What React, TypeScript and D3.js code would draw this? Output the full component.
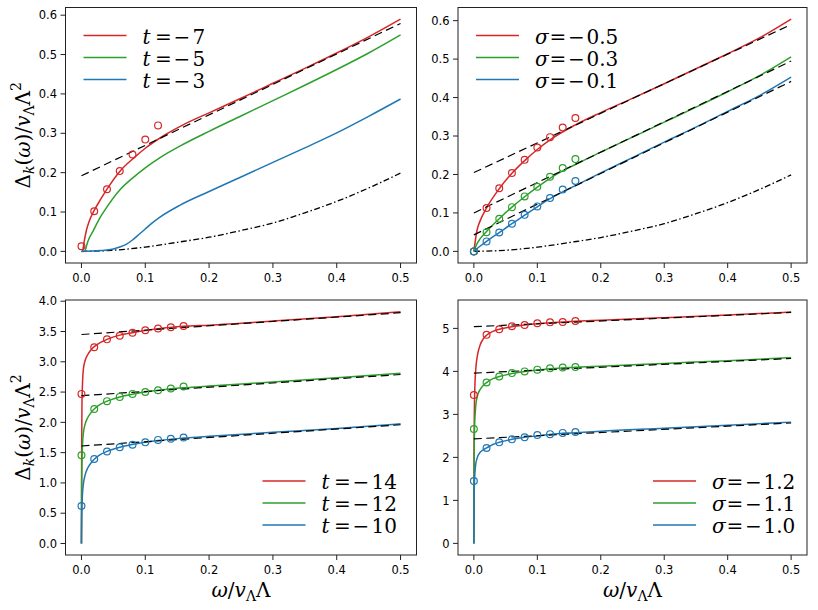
import * as d3 from "d3";

type Pt = [number, number];

const red = "#d62728";
const green = "#2ca02c";
const blue = "#1f77b4";

// x ticks shared by all panels
const omegaTicks = [0, 0.1, 0.2, 0.3, 0.4, 0.5];
// omega values where the circles sit
const omegaDots = [0, 0.02, 0.04, 0.06, 0.08, 0.1, 0.12, 0.14, 0.16];

// ---- top left: t = -7, -5, -3
const tTopLabels = ["−7", "−5", "−3"];
const tTopRed: Pt[] = [
  [0.002, 0], [0.004, 0.022], [0.008, 0.055], [0.012, 0.076], [0.019, 0.101], [0.03, 0.132],
  [0.04, 0.158], [0.06, 0.203], [0.084, 0.24], [0.1, 0.262], [0.13, 0.295], [0.16, 0.322],
  [0.2, 0.352], [0.25, 0.389], [0.3, 0.427], [0.35, 0.465], [0.4, 0.504], [0.45, 0.545], [0.5, 0.59],
];
const tTopGreen: Pt[] = [
  [0.0056, 0], [0.01, 0.025], [0.019, 0.054], [0.03, 0.088], [0.04, 0.113], [0.06, 0.156],
  [0.08, 0.186], [0.1, 0.212], [0.125, 0.24], [0.155, 0.268], [0.2, 0.305], [0.25, 0.344],
  [0.3, 0.383], [0.35, 0.422], [0.4, 0.462], [0.45, 0.504], [0.5, 0.55],
];
const tTopBlue: Pt[] = [
  [0, 0], [0.03, 0.002], [0.05, 0.006], [0.06, 0.011], [0.07, 0.018], [0.08, 0.029], [0.09, 0.043],
  [0.1, 0.057], [0.11, 0.071], [0.123, 0.087], [0.154, 0.117], [0.2, 0.152], [0.25, 0.189],
  [0.3, 0.226], [0.35, 0.263], [0.4, 0.301], [0.45, 0.343], [0.5, 0.387],
];
const tTopRedDots = [0.013, 0.102, 0.158, 0.204, 0.246, 0.284, 0.32];
const tTopRedAsym: Pt[] = [[0, 0.192], [0.5, 0.579]];

// free (dash-dot) curve, same in both top panels
const freeCurve: Pt[] = [
  [0, 0], [0.05, 0.003], [0.1, 0.011], [0.15, 0.023], [0.2, 0.036], [0.25, 0.053],
  [0.3, 0.072], [0.35, 0.098], [0.4, 0.127], [0.45, 0.161], [0.5, 0.199],
];

// ---- top right: sigma = -0.5, -0.3, -0.1
const sTopLabels = ["−0.5", "−0.3", "−0.1"];
const sTopRed: Pt[] = [
  [0, 0], [0.005, 0.055], [0.01, 0.08], [0.02, 0.113], [0.04, 0.163], [0.06, 0.203], [0.08, 0.236],
  [0.1, 0.265], [0.12, 0.29], [0.16, 0.329], [0.2, 0.361], [0.25, 0.398], [0.3, 0.436],
  [0.35, 0.475], [0.4, 0.514], [0.45, 0.555], [0.5, 0.604],
];
const sTopGreen: Pt[] = [
  [0, 0], [0.005, 0.02], [0.01, 0.033], [0.02, 0.052], [0.04, 0.085], [0.06, 0.115], [0.08, 0.142],
  [0.1, 0.167], [0.12, 0.19], [0.16, 0.226], [0.2, 0.258], [0.25, 0.297], [0.3, 0.336],
  [0.35, 0.375], [0.4, 0.415], [0.45, 0.457], [0.5, 0.506],
];
const sTopBlue: Pt[] = [
  [0, 0], [0.01, 0.014], [0.02, 0.026], [0.04, 0.049], [0.06, 0.072], [0.08, 0.094], [0.1, 0.116],
  [0.12, 0.137], [0.16, 0.171], [0.2, 0.204], [0.25, 0.244], [0.3, 0.284], [0.35, 0.323],
  [0.4, 0.364], [0.45, 0.405], [0.5, 0.453],
];
const sTopRedDots = [0, 0.113, 0.164, 0.204, 0.238, 0.27, 0.297, 0.322, 0.347];
const sTopGreenDots = [0, 0.05, 0.085, 0.115, 0.143, 0.168, 0.194, 0.217, 0.24];
const sTopBlueDots = [0, 0.026, 0.049, 0.072, 0.095, 0.117, 0.139, 0.161, 0.183];
const sTopAsym: Pt[][] = [
  [[0, 0.205], [0.5, 0.59]],
  [[0, 0.1], [0.5, 0.495]],
  [[0, 0.043], [0.5, 0.442]],
];

// ---- bottom left: t = -14, -12, -10
const tBotLabels = ["−14", "−12", "−10"];
const tBotRed: Pt[] = [
  [0, 0], [0.0003, 1.5], [0.0008, 2.3], [0.0015, 2.6], [0.003, 2.88], [0.006, 3.03], [0.01, 3.12],
  [0.015, 3.2], [0.02, 3.25], [0.03, 3.32], [0.04, 3.37], [0.06, 3.44], [0.08, 3.48], [0.1, 3.515],
  [0.12, 3.545], [0.16, 3.585], [0.2, 3.605], [0.3, 3.672], [0.4, 3.745], [0.5, 3.825],
];
const tBotGreen: Pt[] = [
  [0, 0], [0.0003, 0.9], [0.0008, 1.35], [0.0015, 1.6], [0.003, 1.82], [0.006, 1.98], [0.01, 2.08],
  [0.015, 2.16], [0.02, 2.22], [0.03, 2.3], [0.04, 2.35], [0.06, 2.42], [0.08, 2.465], [0.1, 2.5],
  [0.12, 2.53], [0.16, 2.57], [0.2, 2.6], [0.3, 2.665], [0.4, 2.735], [0.5, 2.81],
];
const tBotBlue: Pt[] = [
  [0, 0], [0.0003, 0.4], [0.0008, 0.62], [0.0015, 0.8], [0.003, 0.98], [0.006, 1.14], [0.01, 1.25],
  [0.015, 1.33], [0.02, 1.39], [0.03, 1.47], [0.04, 1.52], [0.06, 1.59], [0.08, 1.635], [0.1, 1.67],
  [0.12, 1.7], [0.16, 1.74], [0.2, 1.77], [0.3, 1.835], [0.4, 1.9], [0.5, 1.975],
];
const tBotRedDots = [2.47, 3.24, 3.37, 3.43, 3.48, 3.52, 3.55, 3.57, 3.59];
const tBotGreenDots = [1.455, 2.22, 2.35, 2.42, 2.47, 2.5, 2.53, 2.56, 2.59];
const tBotBlueDots = [0.62, 1.395, 1.52, 1.59, 1.63, 1.67, 1.71, 1.73, 1.75];
const tBotAsym: Pt[][] = [
  [[0, 3.45], [0.5, 3.81]],
  [[0, 2.44], [0.5, 2.79]],
  [[0, 1.61], [0.5, 1.96]],
];

// ---- bottom right: sigma = -1.2, -1.1, -1.0
const sBotLabels = ["−1.2", "−1.1", "−1.0"];
const sBotRed: Pt[] = [
  [0, 0], [0.0003, 2.2], [0.0008, 3.1], [0.0015, 3.6], [0.003, 4.05], [0.006, 4.4], [0.01, 4.62],
  [0.015, 4.76], [0.02, 4.84], [0.03, 4.93], [0.04, 4.98], [0.06, 5.04], [0.08, 5.08], [0.1, 5.11],
  [0.12, 5.13], [0.16, 5.165], [0.2, 5.19], [0.3, 5.25], [0.4, 5.31], [0.5, 5.38],
];
const sBotGreen: Pt[] = [
  [0, 0], [0.0003, 1.8], [0.0008, 2.5], [0.0015, 2.85], [0.003, 3.2], [0.006, 3.45], [0.01, 3.58],
  [0.015, 3.68], [0.02, 3.74], [0.03, 3.83], [0.04, 3.88], [0.06, 3.95], [0.08, 4.0], [0.1, 4.03],
  [0.12, 4.06], [0.16, 4.095], [0.2, 4.12], [0.3, 4.185], [0.4, 4.25], [0.5, 4.32],
];
const sBotBlue: Pt[] = [
  [0, 0], [0.0003, 0.9], [0.0008, 1.35], [0.0015, 1.6], [0.003, 1.85], [0.006, 2.02], [0.01, 2.12],
  [0.015, 2.18], [0.02, 2.22], [0.03, 2.3], [0.04, 2.35], [0.06, 2.42], [0.08, 2.47], [0.1, 2.5],
  [0.12, 2.535], [0.16, 2.575], [0.2, 2.61], [0.3, 2.675], [0.4, 2.745], [0.5, 2.82],
];
const sBotRedDots = [3.45, 4.85, 4.98, 5.05, 5.08, 5.12, 5.14, 5.15, 5.17];
const sBotGreenDots = [2.66, 3.74, 3.88, 3.96, 4.0, 4.04, 4.07, 4.09, 4.1];
const sBotBlueDots = [1.45, 2.22, 2.35, 2.42, 2.47, 2.52, 2.54, 2.57, 2.59];
const sBotAsym: Pt[][] = [
  [[0, 5.04], [0.5, 5.37]],
  [[0, 3.96], [0.5, 4.3]],
  [[0, 2.43], [0.5, 2.8]],
];

const colors = [red, green, blue];
const serif = "DejaVu Serif";
const sans = "DejaVu Sans";

type Box = { left: number; right: number; top: number; bottom: number };

type PanelProps = {
  box: Box;
  yDomain: [number, number];
  yTicks: number[];
  yFmt: (v: number) => string;
  curves: Pt[][];
  asym: Pt[][];
  dots: number[][];
  free?: Pt[];
  symbol: "t" | "σ";
  labels: string[];
  legendAt: "top" | "bottom";
  xTitle?: boolean;
  yTitle?: boolean;
};

function Panel(p: PanelProps) {
  const { box } = p;
  const x = d3.scaleLinear().domain([-0.025, 0.525]).range([box.left, box.right]);
  const y = d3.scaleLinear().domain(p.yDomain).range([box.bottom, box.top]);
  const line = d3
    .line<Pt>()
    .x((d) => x(d[0]))
    .y((d) => y(d[1]))
    .curve(d3.curveMonotoneX);
  const straight = d3
    .line<Pt>()
    .x((d) => x(d[0]))
    .y((d) => y(d[1]));

  const legX = p.legendAt === "top" ? box.left + 18 : box.right - 154;
  const legY = p.legendAt === "top" ? box.top + 28 : box.bottom - 74;
  const isT = p.symbol === "t";
  const off = isT ? { eq: 12.5, minus: 31, num: 50 } : { eq: 14.5, minus: 33, num: 51.5 };

  return (
    <g>
      {p.free && (
        <path
          d={line(p.free) ?? ""}
          fill="none"
          stroke="#000"
          strokeWidth={1.3}
          strokeDasharray="6,2.5,1.5,2.5"
        />
      )}
      {p.curves.map((c, i) => (
        <path key={i} d={line(c) ?? ""} fill="none" stroke={colors[i]} strokeWidth={1.5} />
      ))}
      {p.asym.map((c, i) => (
        <path
          key={i}
          d={straight(c) ?? ""}
          fill="none"
          stroke="#000"
          strokeWidth={1.2}
          strokeDasharray="8,4.5"
        />
      ))}
      {p.dots.map((ds, i) =>
        ds.map((v, j) => (
          <circle
            key={`${i}-${j}`}
            cx={x(omegaDots[j])}
            cy={y(v)}
            r={3.4}
            fill="none"
            stroke={colors[i]}
            strokeWidth={1.2}
          />
        ))
      )}
      <rect
        x={box.left}
        y={box.top}
        width={box.right - box.left}
        height={box.bottom - box.top}
        fill="none"
        stroke="#222"
        strokeWidth={1}
      />
      {omegaTicks.map((t) => (
        <g key={t}>
          <line x1={x(t)} x2={x(t)} y1={box.bottom} y2={box.bottom + 5} stroke="#222" />
          <text
            x={x(t)}
            y={box.bottom + 18.5}
            textAnchor="middle"
            fontFamily={sans}
            fontSize={11.5}
          >
            {d3.format(".1f")(t)}
          </text>
        </g>
      ))}
      {p.yTicks.map((t) => (
        <g key={t}>
          <line x1={box.left - 5} x2={box.left} y1={y(t)} y2={y(t)} stroke="#222" />
          <text
            x={box.left - 8.5}
            y={y(t) + 4.2}
            textAnchor="end"
            fontFamily={sans}
            fontSize={11.5}
          >
            {p.yFmt(t)}
          </text>
        </g>
      ))}
      {p.labels.map((lab, i) => (
        <g key={lab} transform={`translate(${legX},${legY + i * 22})`}>
          <line x1={0} x2={43} y1={0} y2={0} stroke={colors[i]} strokeWidth={1.5} />
          <text y={8} fontFamily={serif} fontSize={20}>
            <tspan x={59} fontStyle="italic">
              {p.symbol}
            </tspan>
            <tspan x={59 + off.eq}>=</tspan>
            <tspan x={59 + off.minus}>{lab.slice(0, 1)}</tspan>
            <tspan x={59 + off.num}>{lab.slice(1)}</tspan>
          </text>
        </g>
      ))}
      {p.yTitle && (
        <text
          transform={`translate(30,${(box.top + box.bottom) / 2}) rotate(-90)`}
          textAnchor="middle"
          fontFamily={serif}
          fontSize={20}
        >
          Δ
          <tspan fontStyle="italic" fontSize={14} dy={4}>
            k
          </tspan>
          <tspan dy={-4}>(</tspan>
          <tspan fontStyle="italic">ω</tspan>
          <tspan>)/</tspan>
          <tspan fontStyle="italic">v</tspan>
          <tspan fontSize={14} dy={4}>
            Λ
          </tspan>
          <tspan dy={-4}>Λ</tspan>
          <tspan fontSize={14} dy={-9}>
            2
          </tspan>
        </text>
      )}
      {p.xTitle && (
        <text
          x={(box.left + box.right) / 2}
          y={597}
          textAnchor="middle"
          fontFamily={serif}
          fontSize={20}
        >
          <tspan fontStyle="italic">ω</tspan>
          <tspan>/</tspan>
          <tspan fontStyle="italic">v</tspan>
          <tspan fontSize={14} dy={4}>
            Λ
          </tspan>
          <tspan dy={-4}>Λ</tspan>
        </text>
      )}
    </g>
  );
}

const f1 = d3.format(".1f");
const fInt = d3.format("d");

export default function App() {
  return (
    <svg
      width={818}
      height={610}
      viewBox="0 0 818 610"
      style={{ position: "absolute", left: 0, top: 0, background: "#fff" }}
    >
      <Panel
        box={{ left: 65.5, right: 416.5, top: 7.5, bottom: 263 }}
        yDomain={[-0.0295, 0.6195]}
        yTicks={d3.range(0, 0.61, 0.1)}
        yFmt={f1}
        curves={[tTopRed, tTopGreen, tTopBlue]}
        asym={[tTopRedAsym]}
        dots={[tTopRedDots]}
        free={freeCurve}
        symbol="t"
        labels={tTopLabels}
        legendAt="top"
        yTitle
      />
      <Panel
        box={{ left: 458, right: 807, top: 7.5, bottom: 263 }}
        yDomain={[-0.0302, 0.6342]}
        yTicks={d3.range(0, 0.61, 0.1)}
        yFmt={f1}
        curves={[sTopRed, sTopGreen, sTopBlue]}
        asym={sTopAsym}
        dots={[sTopRedDots, sTopGreenDots, sTopBlueDots]}
        free={freeCurve}
        symbol="σ"
        labels={sTopLabels}
        legendAt="top"
      />
      <Panel
        box={{ left: 65.5, right: 416.5, top: 300, bottom: 555 }}
        yDomain={[-0.19, 4.02]}
        yTicks={d3.range(0, 4.01, 0.5)}
        yFmt={f1}
        curves={[tBotRed, tBotGreen, tBotBlue]}
        asym={tBotAsym}
        dots={[tBotRedDots, tBotGreenDots, tBotBlueDots]}
        symbol="t"
        labels={tBotLabels}
        legendAt="bottom"
        xTitle
        yTitle
      />
      <Panel
        box={{ left: 458, right: 807, top: 300, bottom: 555 }}
        yDomain={[-0.27, 5.66]}
        yTicks={d3.range(0, 5.01, 1)}
        yFmt={fInt}
        curves={[sBotRed, sBotGreen, sBotBlue]}
        asym={sBotAsym}
        dots={[sBotRedDots, sBotGreenDots, sBotBlueDots]}
        symbol="σ"
        labels={sBotLabels}
        legendAt="bottom"
        xTitle
      />
    </svg>
  );
}
